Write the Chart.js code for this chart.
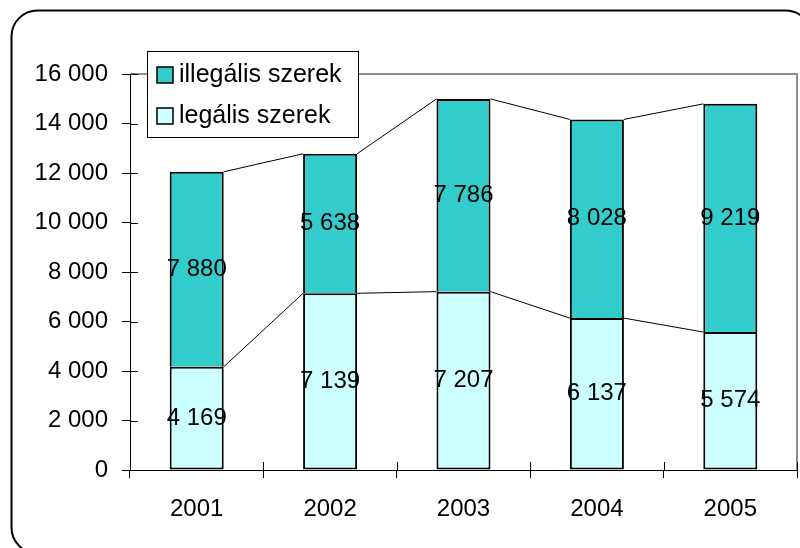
<!DOCTYPE html>
<html>
<head>
<meta charset="utf-8">
<script src="https://cdn.jsdelivr.net/npm/chart.js"></script>
<style>
  body { margin: 0; background: #fff; }
  #wrap { width: 800px; height: 548px; }
</style>
</head>
<body>
<div id="wrap"><canvas id="myChart" width="800" height="548"></canvas></div>
<script>
// évek és a két sorozat
var years = ['2001', '2002', '2003', '2004', '2005'];
var legalis = [4169, 7139, 7207, 6137, 5574];
var illegalis = [7880, 5638, 7786, 8028, 9219];
var yTicks = [0, 2000, 4000, 6000, 8000, 10000, 12000, 14000, 16000];

var FONT = '"Liberation Sans", Arial, sans-serif';

function ezres(v) {
  return String(v).replace(/\B(?=(\d{3})+(?!\d))/g, ' ');
}

// keret, sorozatvonalak, feliratok, jelmagyarázat
var extras = {
  id: 'extras',
  beforeDraw: function (chart) {
    var c = chart.ctx, a = chart.chartArea;
    c.save();
    c.strokeStyle = '#000';
    c.lineWidth = 2;
    c.beginPath();
    c.roundRect(11.5, 10.5, 800, 543, 26);
    c.stroke();
    // szürke diagramterület-keret (felül, jobbra)
    c.strokeStyle = '#8c8c8c';
    c.lineWidth = 2;
    c.beginPath();
    c.moveTo(a.left, a.top);
    c.lineTo(a.right, a.top);
    c.lineTo(a.right, a.bottom);
    c.stroke();
    c.restore();
  },
  afterDatasetsDraw: function (chart) {
    var c = chart.ctx, a = chart.chartArea;
    c.save();
    // sorozatvonalak az oszlopok tetejei között
    c.strokeStyle = '#000';
    c.lineWidth = 1;
    chart.data.datasets.forEach(function (ds, di) {
      var els = chart.getDatasetMeta(di).data;
      for (var i = 0; i < els.length - 1; i++) {
        var p = els[i], q = els[i + 1];
        c.beginPath();
        c.moveTo(p.x + p.width / 2, p.y);
        c.lineTo(q.x - q.width / 2, q.y);
        c.stroke();
      }
    });
    // belső osztásjelek
    c.beginPath();
    chart.scales.y.ticks.forEach(function (t, i) {
      var y = Math.round(chart.scales.y.getPixelForTick(i)) + 0.5;
      c.moveTo(a.left, y);
      c.lineTo(a.left + 8, y);
    });
    var step = (a.right - a.left) / years.length;
    for (var k = 0; k <= years.length; k++) {
      var x = Math.round(a.left + k * step) + 0.5;
      c.moveTo(x, a.bottom);
      c.lineTo(x, a.bottom - 8);
    }
    c.stroke();
    // értékfeliratok
    c.fillStyle = '#000';
    c.font = '24px ' + FONT;
    c.textAlign = 'center';
    c.textBaseline = 'middle';
    chart.data.datasets.forEach(function (ds, di) {
      chart.getDatasetMeta(di).data.forEach(function (el, i) {
        c.fillText(ezres(ds.data[i]), el.x, (el.y + el.base) / 2);
      });
    });
    c.restore();
  },
  afterDraw: function (chart) {
    var c = chart.ctx;
    c.save();
    c.fillStyle = '#fff';
    c.fillRect(147, 51, 211, 86);
    c.strokeStyle = '#000';
    c.lineWidth = 1;
    c.strokeRect(147.5, 51.5, 211, 86);
    var items = [chart.data.datasets[1], chart.data.datasets[0]];
    c.font = '25px ' + FONT;
    c.textBaseline = 'middle';
    c.textAlign = 'left';
    items.forEach(function (ds, i) {
      var cy = 75 + i * 41;
      c.fillStyle = ds.backgroundColor;
      c.fillRect(157, cy - 8, 16, 16);
      c.strokeStyle = '#000';
      c.lineWidth = 1.5;
      c.strokeRect(157, cy - 8, 16, 16);
      c.fillStyle = '#000';
      c.fillText(ds.label, 179, cy);
    });
    c.restore();
  }
};

var ctx = document.getElementById('myChart').getContext('2d');
var myChart = new Chart(ctx, {
  type: 'bar',
  data: {
    labels: years,
    datasets: [{
      label: 'legális szerek',
      data: legalis,
      backgroundColor: '#ccffff',
      borderColor: '#000',
      borderWidth: 2,
      borderSkipped: false
    }, {
      label: 'illegális szerek',
      data: illegalis,
      backgroundColor: '#33cccc',
      borderColor: '#000',
      borderWidth: 2,
      borderSkipped: 'start'
    }]
  },
  options: {
    responsive: false,
    animation: false,
    layout: { padding: { top: 74, right: 3, left: 0, bottom: 0 } },
    datasets: { bar: { categoryPercentage: 1, barPercentage: 0.405 } },
    plugins: { legend: { display: false }, tooltip: { enabled: false } },
    scales: {
      x: {
        stacked: true,
        afterFit: function (s) { s.height = 78; },
        border: { color: '#000', width: 1 },
        grid: { drawOnChartArea: false, tickLength: 8, color: '#000', offset: true },
        ticks: { color: '#000', font: { family: FONT, size: 24 }, padding: 17, maxRotation: 0 }
      },
      y: {
        stacked: true,
        min: 0,
        max: 16000,
        afterFit: function (s) { s.width = 130; },
        afterBuildTicks: function (s) { s.ticks = yTicks.map(function (v) { return { value: v }; }); },
        border: { color: '#000', width: 1 },
        grid: { drawOnChartArea: false, tickLength: 8, color: '#000' },
        ticks: {
          color: '#000',
          font: { family: FONT, size: 24 },
          padding: 14,
          callback: function (v) { return ezres(v); }
        }
      }
    }
  },
  plugins: [extras]
});
</script>
</body>
</html>
